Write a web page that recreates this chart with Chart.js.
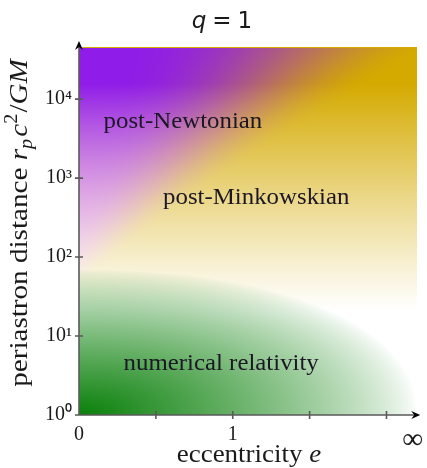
<!DOCTYPE html>
<html>
<head>
<meta charset="utf-8">
<script src="https://cdn.jsdelivr.net/npm/chart.js@4.4.0/dist/chart.umd.min.js"></script>
<style>
  html, body { margin: 0; padding: 0; background: #fff; }
</style>
</head>
<body>
<canvas id="chart" width="427" height="468"></canvas>
<script>
// axis data
const xTickValues = [0, 0.5, 1, 1.5, 2, 2.17];
const xTickLabels = ['0', '', '1', '', '', '∞'];
const xMax = 2.2;
const yTickValues = [1, 10, 100, 1000, 10000];
const yTickLabels = ['10⁰', '10¹', '10²', '10³', '10⁴'];
const yMin = 1;
const yMax = 45700;

// region labels (eccentricity axis value, periastron distance)
const regionNames = ['post-Newtonian', 'post-Minkowskian', 'numerical relativity'];
const regionE = [0.16, 0.547, 0.29];
const regionR = [4370, 472, 3.7];

const purple = [143, 28, 232];
const pink = [225, 110, 170];
const gold = [212, 170, 0];
const green = [10, 128, 10];

function clamp01(x) { return Math.min(1, Math.max(0, x)); }
function smooth(x) {
    const t = clamp01((x + 1) / 2);
    return t * t * (3 - 2 * t);
}

// colour of the background at normalised position (u along e, v along log r)
function fieldColor(u, v) {
    const ub = (v - 0.41) / 1.05;
    const w = Math.max(0.05, 0.5 * v * v);
    const t = Math.pow(smooth((u - ub) / w), 1.4);
    const I = Math.pow(clamp01((v - 0.28) / 0.62), 1.1);
    const c = [0, 1, 2].map(k => {
        const pe = purple[k] + (pink[k] - purple[k]) * (1 - I);
        const top = pe * (1 - t) + gold[k] * t;
        return 255 + (top - 255) * I;
    });
    const rr = Math.pow(Math.pow(u, 2.2) + Math.pow(v / 0.395, 2.2), 1 / 2.2);
    const g = Math.pow(clamp01(1 - rr), 0.78);
    return c.map((val, k) => val + (green[k] - val) * g);
}

const shadingPlugin = {
    id: 'shading',
    beforeDatasetsDraw(chart) {
        const { ctx, chartArea: a, scales } = chart;
        const w = Math.round(a.right - a.left);
        const h = Math.round(a.bottom - a.top);
        const off = document.createElement('canvas');
        off.width = w;
        off.height = h;
        const octx = off.getContext('2d');
        const img = octx.createImageData(w, h);
        const lmax = Math.log10(scales.y.max);
        for (let j = 0; j < h; j++) {
            const yv = scales.y.getValueForPixel(a.top + j + 0.5);
            const v = Math.log10(yv) / lmax;
            for (let i = 0; i < w; i++) {
                const xv = scales.x.getValueForPixel(a.left + i + 0.5);
                const col = fieldColor(xv / scales.x.max, v);
                const p = (j * w + i) * 4;
                img.data[p] = col[0];
                img.data[p + 1] = col[1];
                img.data[p + 2] = col[2];
                img.data[p + 3] = 255;
            }
        }
        octx.putImageData(img, 0, 0);
        ctx.drawImage(off, a.left, a.top);
        ctx.fillStyle = 'rgb(212,170,0)';
        ctx.fillRect(a.left, a.top, w, 1);
    }
};

function drawRich(ctx, parts, x, y, stretch) {
    let total = 0;
    parts.forEach(p => { ctx.font = p.font; total += ctx.measureText(p.text).width + (p.gap || 0); });
    ctx.save();
    ctx.translate(x, y);
    ctx.scale(stretch, 1);
    let cx = -total / 2;
    parts.forEach(p => {
        ctx.font = p.font;
        ctx.fillText(p.text, cx, p.dy || 0);
        cx += ctx.measureText(p.text).width + (p.gap || 0);
    });
    ctx.restore();
}

const decorPlugin = {
    id: 'decor',
    afterDraw(chart) {
        const { ctx, chartArea: a, scales } = chart;
        ctx.save();
        // axes
        ctx.strokeStyle = '#5a5a5a';
        ctx.lineWidth = 1.6;
        ctx.beginPath();
        ctx.moveTo(a.left, a.bottom);
        ctx.lineTo(a.left, a.top - 2);
        ctx.moveTo(a.left, a.bottom);
        ctx.lineTo(a.right, a.bottom);
        scales.y.ticks.forEach(t => {
            const py = scales.y.getPixelForValue(t.value);
            ctx.moveTo(a.left - 4, py);
            ctx.lineTo(a.left + 4, py);
        });
        scales.x.ticks.forEach((t, i) => {
            if (xTickLabels[i] === '∞' || t.value === 0) return;
            const px = scales.x.getPixelForValue(t.value);
            ctx.moveTo(px, a.bottom - 4);
            ctx.lineTo(px, a.bottom + 4);
        });
        ctx.stroke();
        // arrow heads
        ctx.fillStyle = '#000';
        ctx.beginPath();
        const ty = a.top - 6;
        ctx.moveTo(a.left, ty);
        ctx.lineTo(a.left + 4, ty + 9);
        ctx.lineTo(a.left, ty + 6);
        ctx.lineTo(a.left - 4, ty + 9);
        ctx.closePath();
        const tx = a.right + 3;
        ctx.moveTo(tx, a.bottom);
        ctx.lineTo(tx - 9, a.bottom - 4);
        ctx.lineTo(tx - 6, a.bottom);
        ctx.lineTo(tx - 9, a.bottom + 4);
        ctx.closePath();
        ctx.fill();

        // region labels, placed through the dataset points
        ctx.fillStyle = '#1c1724';
        ctx.textBaseline = 'alphabetic';
        ctx.textAlign = 'left';
        const meta = chart.getDatasetMeta(0);
        meta.data.forEach((pt, i) => {
            ctx.save();
            ctx.translate(pt.x, pt.y);
            ctx.scale(1.08, 1);
            ctx.font = '23px "Liberation Serif"';
            ctx.fillText(regionNames[i], 0, 0);
            ctx.restore();
        });

        // titles
        ctx.fillStyle = '#1a1a1a';
        drawRich(ctx, [
            { text: 'q', font: 'italic 23px "DejaVu Sans"', gap: 6 },
            { text: '=', font: '23px "DejaVu Sans"', gap: 6 },
            { text: '1', font: '23px "DejaVu Sans"' }
        ], 222, 28, 1);
        drawRich(ctx, [
            { text: 'eccentricity ', font: '25px "Liberation Serif"' },
            { text: 'e', font: 'italic 25px "Liberation Serif"' }
        ], 249, 462, 1.08);
        ctx.save();
        ctx.translate(27, 223);
        ctx.rotate(-Math.PI / 2);
        drawRich(ctx, [
            { text: 'periastron distance ', font: '26px "Liberation Serif"' },
            { text: 'r', font: 'italic 26px "Liberation Serif"' },
            { text: 'p', font: 'italic 18px "Liberation Serif"', dy: 5, gap: 2 },
            { text: 'c', font: 'italic 26px "Liberation Serif"' },
            { text: '2', font: '18px "Liberation Serif"', dy: -10, gap: 1 },
            { text: '/', font: '26px "Liberation Serif"' },
            { text: 'GM', font: 'italic 26px "Liberation Serif"' }
        ], 0, 0, 1.12);
        ctx.restore();
        ctx.restore();
    }
};

new Chart(document.getElementById('chart'), {
    type: 'scatter',
    data: {
        datasets: [{
            data: regionE.map((e, i) => ({ x: e, y: regionR[i] })),
            pointRadius: 0
        }]
    },
    options: {
        responsive: false,
        animation: false,
        devicePixelRatio: 1,
        layout: { padding: { top: 47, right: 3, left: 0, bottom: 0 } },
        plugins: {
            legend: { display: false },
            tooltip: { enabled: false },
            title: { display: false }
        },
        scales: {
            x: {
                type: 'linear',
                min: 0,
                max: xMax,
                afterBuildTicks: s => { s.ticks = xTickValues.map(v => ({ value: v })); },
                afterFit: s => { s.height = 53; },
                grid: { drawOnChartArea: false, drawTicks: true, tickLength: 4, color: 'rgba(0,0,0,0)' },
                border: { display: false },
                ticks: {
                    autoSkip: false,
                    maxRotation: 0,
                    padding: 4,
                    color: '#1a1a1a',
                    font: c => ({ family: 'Liberation Serif', size: (c.tick && c.tick.label === '∞') ? 29 : 20 }),
                    callback: (v, i) => xTickLabels[i]
                }
            },
            y: {
                type: 'logarithmic',
                min: yMin,
                max: yMax,
                afterBuildTicks: s => { s.ticks = yTickValues.map(v => ({ value: v })); },
                afterFit: s => { s.width = 79; },
                grid: { drawOnChartArea: false, drawTicks: true, tickLength: 4, color: 'rgba(0,0,0,0)' },
                border: { display: false },
                ticks: {
                    autoSkip: false,
                    padding: 3,
                    color: '#1a1a1a',
                    font: { family: 'Liberation Serif', size: 20 },
                    callback: (v, i) => yTickLabels[i]
                }
            }
        }
    },
    plugins: [shadingPlugin, decorPlugin]
});
</script>
</body>
</html>
